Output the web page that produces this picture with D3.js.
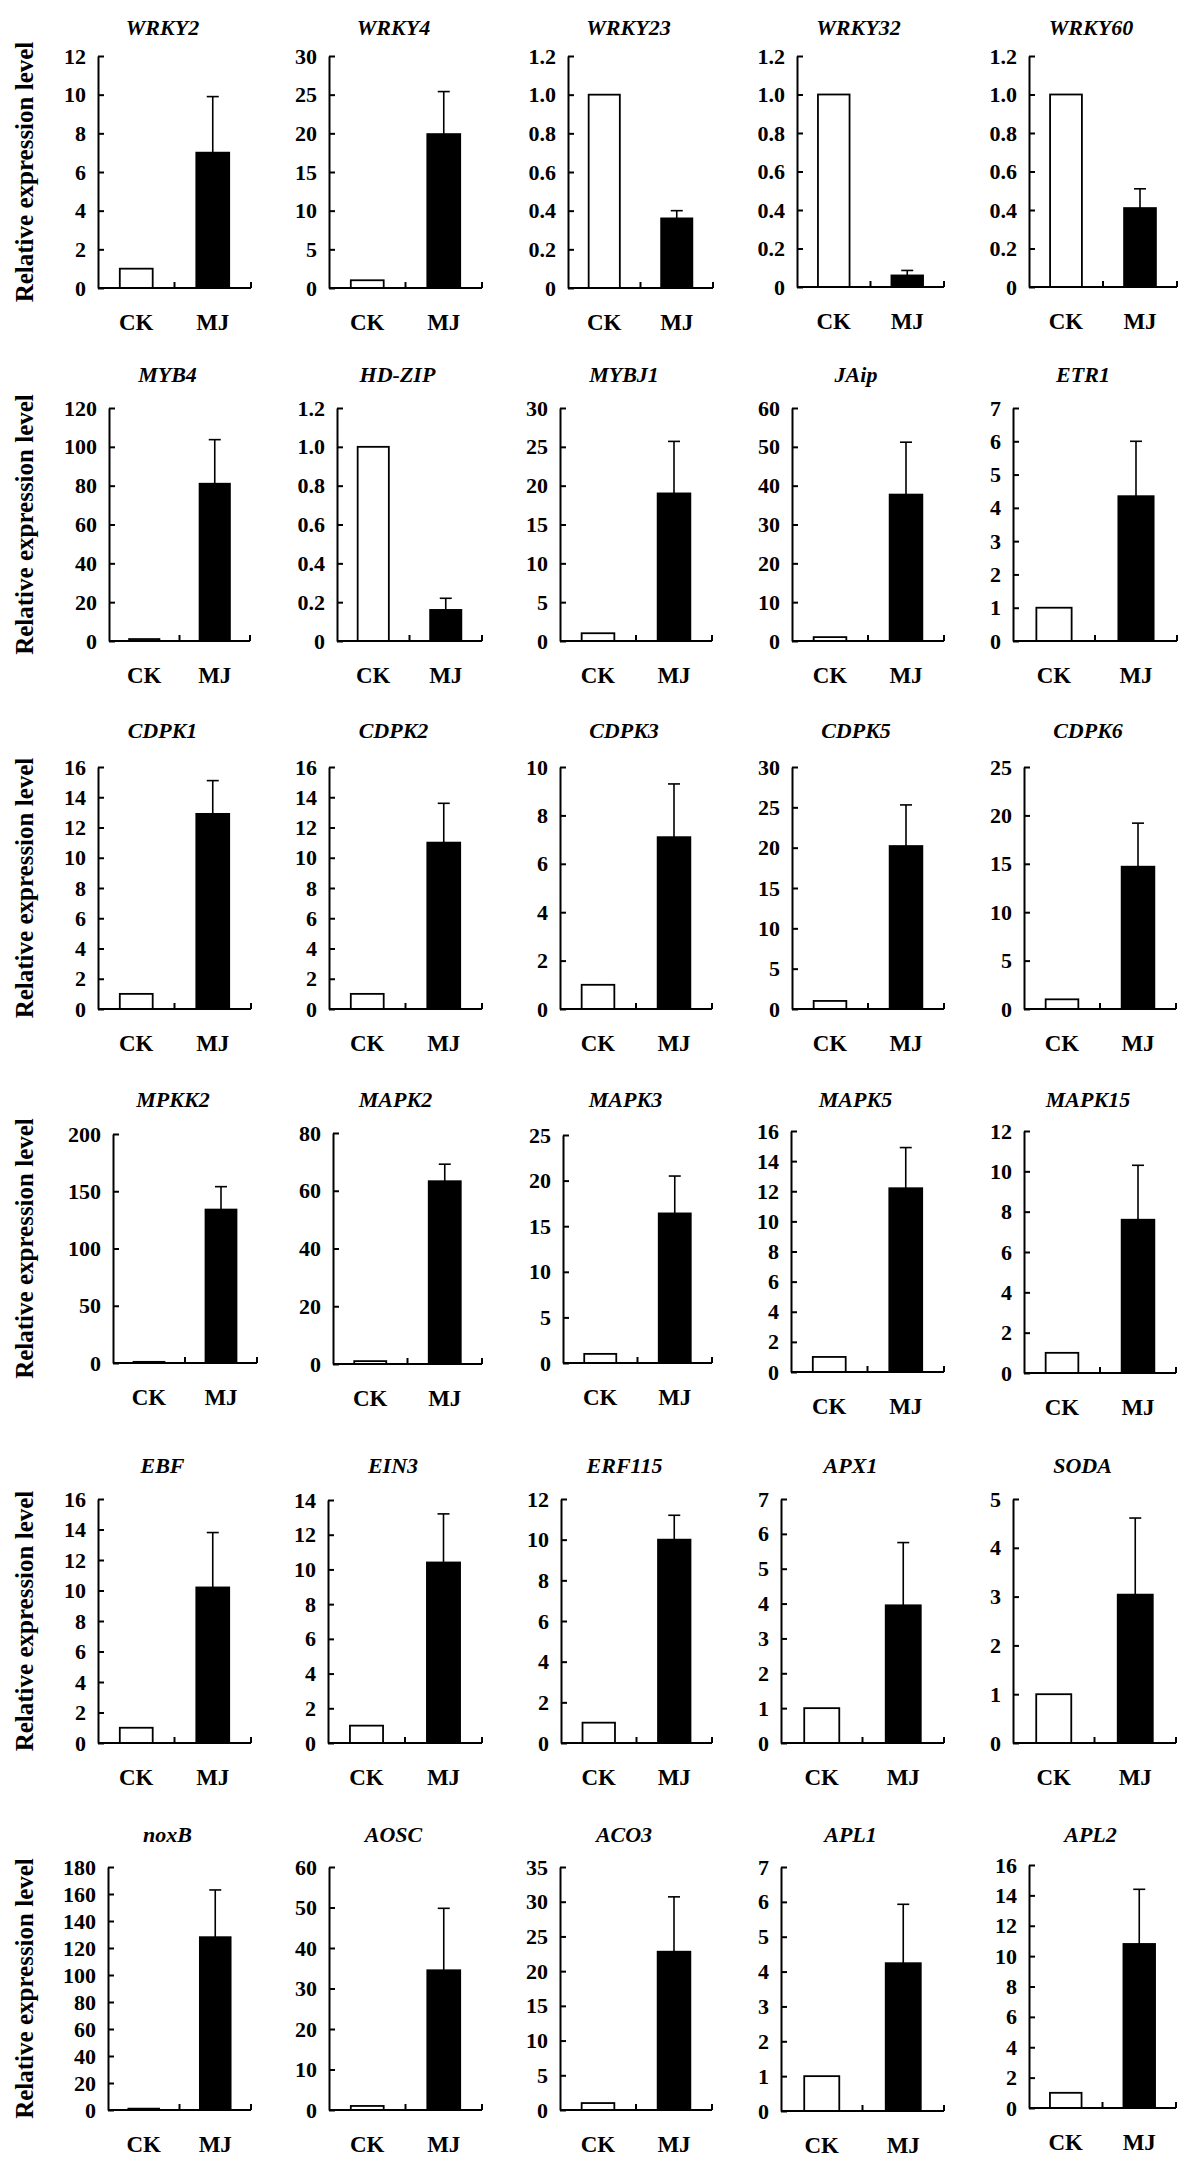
<!DOCTYPE html>
<html>
<head>
<meta charset="utf-8">
<script src="https://cdn.jsdelivr.net/npm/d3@7/dist/d3.min.js"></script>
<style>
  html, body { margin: 0; padding: 0; background: #fff; }
  svg { display: block; }
  text { font-family: "Times New Roman", "Liberation Serif", serif; font-weight: bold; fill: #000; }
</style>
</head>
<body>
<svg id="chart" width="1200" height="2170"></svg>
<script>
// ---------------- DATA ----------------
const genes = [
  "WRKY2","WRKY4","WRKY23","WRKY32","WRKY60",
  "MYB4","HD-ZIP","MYBJ1","JAip","ETR1",
  "CDPK1","CDPK2","CDPK3","CDPK5","CDPK6",
  "MPKK2","MAPK2","MAPK3","MAPK5","MAPK15",
  "EBF","EIN3","ERF115","APX1","SODA",
  "noxB","AOSC","ACO3","APL1","APL2"
];
const categories = ["CK", "MJ"];
const ckValues = [
  1,1,1,1,1,
  1,1,1,1,1,
  1,1,1,1,1,
  1,1,1,1,1,
  1,1,1,1,1,
  1,1,1,1,1
];
const mjValues = [
  7.0, 19.9, 0.36, 0.06, 0.41,
  81, 0.16, 19.0, 37.7, 4.35,
  12.9, 11.0, 7.1, 20.2, 14.7,
  134, 63.3, 16.4, 12.2, 7.6,
  10.2, 10.4, 10.0, 3.95, 3.04,
  128, 34.5, 22.8, 4.24, 10.8
];
const mjErrors = [
  2.9, 5.5, 0.04, 0.026, 0.10,
  22.7, 0.06, 6.7, 13.5, 1.65,
  2.2, 2.6, 2.2, 5.1, 4.5,
  20, 5.9, 4.1, 2.7, 2.7,
  3.6, 2.8, 1.2, 1.8, 1.57,
  35, 15.3, 7.9, 1.69, 3.6
];
const yMaxes = [
  12, 30, 1.2, 1.2, 1.2,
  120, 1.2, 30, 60, 7,
  16, 16, 10, 30, 25,
  200, 80, 25, 16, 12,
  16, 14, 12, 7, 5,
  180, 60, 35, 7, 16
];
const yTickSteps = [
  2, 5, 0.2, 0.2, 0.2,
  20, 0.2, 5, 10, 1,
  2, 2, 2, 5, 5,
  50, 20, 5, 2, 2,
  2, 2, 2, 1, 1,
  20, 10, 5, 1, 2
];
const yAxisTitle = "Relative expression level";

// ---------------- LAYOUT (pixel geometry, separate from data) ----------------
// per panel: [axisLeft, axisRight, plotTop, plotBottom]
const panelBoxes = [
  [98,251,56,288],[329,482,56,288],[568,713,56,288],[797,944,56,287],[1029,1177,56,287],
  [109,250,408,641],[337,482,408,641],[560,712,408,641],[792,944,408,641],[1013,1177,408,641],
  [98,251,767,1009],[329,482,767,1009],[560,712,767,1009],[792,944,767,1009],[1024,1176,767,1009],
  [113,257,1134,1363],[333,482,1133,1364],[563,712,1135,1363],[791,944,1131,1372],[1024,1176,1131,1373],
  [98,251,1499,1743],[328,482,1500,1743],[561,712,1499,1743],[781,944,1499,1743],[1013,1176,1499,1743],
  [108,251,1867,2110],[329,482,1867,2110],[560,712,1867,2110],[781,944,1867,2111],[1029,1176,1865,2108]
];
const rowTitleY = [35, 382, 738, 1107, 1473, 1842];

// ---------------- DRAW ----------------
const svg = d3.select("#chart");
svg.append("rect").attr("width", 1200).attr("height", 2170).attr("fill", "#fff");

genes.forEach((gene, i) => {
  const [x0, x1, top, bottom] = panelBoxes[i];
  const row = Math.floor(i / 5);
  const g = svg.append("g");

  const y = d3.scaleLinear().domain([0, yMaxes[i]]).range([bottom, top]);
  const x = d3.scaleBand().domain(categories).range([x0, x1])
    .paddingInner(0.57).paddingOuter(0.285);

  const step = yTickSteps[i];
  const nTicks = Math.round(yMaxes[i] / step);
  const tickVals = d3.range(0, nTicks + 1).map(k => +(k * step).toFixed(4));
  const decimals = step < 1;
  const fmt = d => d === 0 ? "0" : (decimals ? d3.format(".1f")(d) : d3.format("d")(d));

  // bars
  const vals = [ckValues[i], mjValues[i]];
  g.selectAll("rect.bar").data(categories).join("rect")
    .attr("class", "bar")
    .attr("x", c => x(c))
    .attr("y", (c, k) => y(vals[k]))
    .attr("width", x.bandwidth())
    .attr("height", (c, k) => y(0) - y(vals[k]))
    .attr("fill", (c, k) => k === 0 ? "#fff" : "#000")
    .attr("stroke", "#000")
    .attr("stroke-width", 1.8);

  // error bar (upper only) on MJ
  const cx = x("MJ") + x.bandwidth() / 2;
  const yTop = y(mjValues[i] + mjErrors[i]);
  g.append("line")
    .attr("x1", cx).attr("x2", cx)
    .attr("y1", y(mjValues[i])).attr("y2", yTop)
    .attr("stroke", "#000").attr("stroke-width", 1.6);
  g.append("line")
    .attr("x1", cx - 6).attr("x2", cx + 6)
    .attr("y1", yTop).attr("y2", yTop)
    .attr("stroke", "#000").attr("stroke-width", 1.6);

  // y axis with inward ticks
  const yAxis = d3.axisLeft(y).tickValues(tickVals).tickFormat(fmt)
    .tickSizeInner(-6).tickSizeOuter(0).tickPadding(12);
  const ya = g.append("g").attr("transform", `translate(${x0},0)`).call(yAxis);
  ya.select(".domain").attr("stroke", "#000").attr("stroke-width", 2);
  ya.selectAll(".tick line").attr("stroke", "#000").attr("stroke-width", 2);
  ya.selectAll(".tick text")
    .style("font-family", '"Times New Roman", "Liberation Serif", serif')
    .style("font-weight", "bold").style("font-size", "22px").attr("fill", "#000");

  // x axis baseline with category-boundary ticks (pointing up)
  g.append("line").attr("x1", x0).attr("x2", x1).attr("y1", y(0)).attr("y2", y(0))
    .attr("stroke", "#000").attr("stroke-width", 2);
  const bw = x.bandwidth(), stp = x.step();
  const boundaries = [x("CK") + bw + (stp - bw) / 2, x1];
  g.selectAll("line.xtick").data(boundaries).join("line")
    .attr("class", "xtick")
    .attr("x1", d => d).attr("x2", d => d)
    .attr("y1", y(0)).attr("y2", y(0) - 6)
    .attr("stroke", "#000").attr("stroke-width", 2);

  // category labels
  g.selectAll("text.cat").data(categories).join("text")
    .attr("class", "cat")
    .attr("x", c => x(c) + bw / 2)
    .attr("y", bottom + 42)
    .attr("text-anchor", "middle")
    .style("font-size", "23px")
    .text(c => c);

  // gene title (bold italic)
  g.append("text")
    .attr("x", (x0 + x1) / 2 - 12)
    .attr("y", rowTitleY[row])
    .attr("text-anchor", "middle")
    .style("font-size", "22px")
    .style("font-style", "italic")
    .text(gene);

  // row y-axis title
  if (i % 5 === 0) {
    const cy = (top + bottom) / 2;
    svg.append("text")
      .attr("transform", `translate(33,${cy}) rotate(-90)`)
      .attr("text-anchor", "middle")
      .style("font-size", "25px")
      .text(yAxisTitle);
  }
});
</script>
</body>
</html>
